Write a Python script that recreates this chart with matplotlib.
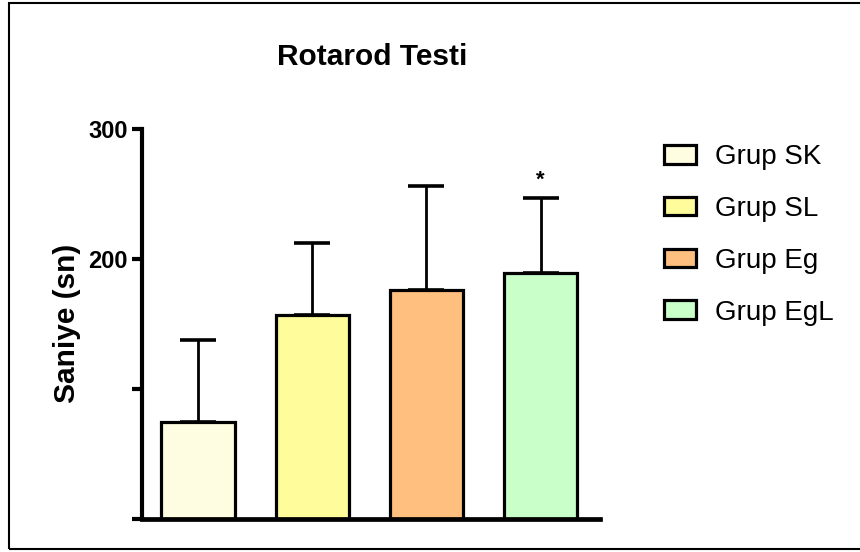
import matplotlib
matplotlib.use("Agg")
import matplotlib.pyplot as plt
from matplotlib.patches import Patch, Rectangle

# Rotarod test results per group (seconds)
groups = ["Grup SK", "Grup SL", "Grup Eg", "Grup EgL"]
means = [75, 157, 176, 189]
errors = [63, 55, 80, 58]
colors = ["#FFFDE1", "#FFFC9C", "#FFBF7F", "#C9FFC9"]
significant = [False, False, False, True]
yticks = [0, 100, 200, 300]
ytick_labels = ["", "", "200", "300"]

plt.rcParams["font.family"] = ["Liberation Sans", "DejaVu Sans"]

W, H = 860, 552
fig = plt.figure(figsize=(W / 100, H / 100), dpi=100)

def fx(px):
    return px / W

def fy(py):
    return 1 - py / H

ax = fig.add_axes([fx(142), fy(519), fx(600) - fx(142), fy(129) - fy(519)])

x = list(range(len(groups)))
ax.errorbar(x, means, yerr=[[0] * len(errors), errors], fmt="none",
            ecolor="black", elinewidth=2.0, capsize=13, capthick=2.6, zorder=1)
ax.bar(x, means, width=0.64, color=colors, edgecolor="black",
       linewidth=2.3, zorder=2)

for xi, m, e, sig in zip(x, means, errors, significant):
    if sig:
        ax.annotate("*", (xi, m + e), xytext=(0, 13), textcoords="offset points",
                    ha="center", va="center", fontsize=16, fontweight="bold")

ax.set_xlim(-0.49, 3.52)
ax.set_ylim(0, 300)
ax.set_xticks([])
ax.set_yticks(yticks)
ax.set_yticklabels(ytick_labels, fontsize=17, fontweight="bold")
ax.tick_params(axis="y", direction="out", length=7.5, width=3, pad=2.5)
for side in ("top", "right"):
    ax.spines[side].set_visible(False)
ax.spines["left"].set_linewidth(3)
ax.spines["bottom"].set_linewidth(3.4)
ax.spines["left"].set_capstyle("projecting")
ax.spines["bottom"].set_capstyle("projecting")

fig.text(fx(372), fy(57), "Rotarod Testi", ha="center", va="center",
         fontsize=21.5, fontweight="bold")
fig.text(fx(67), fy(323), "Saniye (sn)", ha="center", va="center",
         rotation=90, fontsize=21.5, fontweight="bold")

handles = [Patch(facecolor=c, edgecolor="black", linewidth=2.3) for c in colors]
fig.legend(handles, groups, loc="upper left",
           bbox_to_anchor=(fx(664), fy(144)), frameon=False, fontsize=20,
           handlelength=1.15, handleheight=0.65, handletextpad=0.7,
           labelspacing=0.93, borderpad=0, borderaxespad=0)

# outer frame
fig.patches.append(Rectangle((fx(9), fy(549)), fx(870) - fx(9), fy(2.5) - fy(549),
                             transform=fig.transFigure, fill=False,
                             edgecolor="black", linewidth=1.5))

fig.savefig("out.png", dpi=100)
